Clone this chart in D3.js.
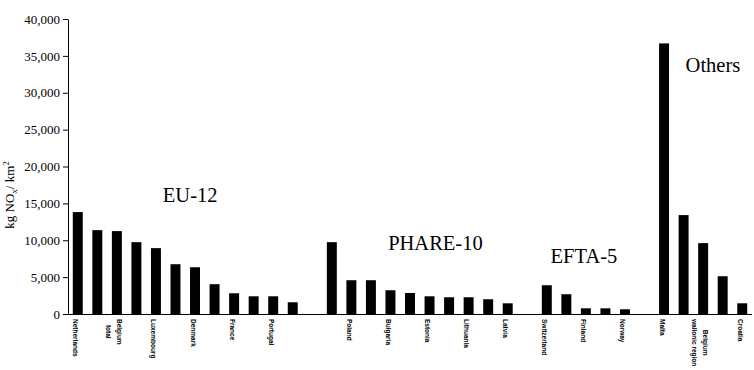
<!DOCTYPE html>
<html>
<head>
<meta charset="utf-8">
<script src="https://cdn.jsdelivr.net/npm/d3@7"></script>
<style>
  body { margin: 0; background: #fff; }
  svg { display: block; }
</style>
</head>
<body>
<div id="wrapper"></div>
<script>
// values (kg NOx / km2), labels only where the picture shows one
const groupNames = ['EU-12', 'PHARE-10', 'EFTA-5', 'Others']

const euValues = [13820, 11370, 11240, 9740, 8930, 6750, 6340, 4040, 2810, 2400, 2400, 1590]
const euLabels = ['Netherlands', '', 'Belgium\ntotal', '', 'Luxembourg', '', 'Denmark', '', 'France', '', 'Portugal', '']

const phareValues = [9740, 4580, 4580, 3220, 2850, 2400, 2270, 2270, 2000, 1450]
const phareLabels = ['', 'Poland', '', 'Bulgaria', '', 'Estonia', '', 'Lithuania', '', 'Latvia']

const eftaValues = [3900, 2680, 770, 770, 640]
const eftaLabels = ['Switzerland', '', 'Finland', '', 'Norway']

const otherValues = [36690, 13410, 9610, 5120, 1450]
const otherLabels = ['Malta', '', 'Belgium\nwallonic region', '', 'Croatia']

const yTicks = [0, 5000, 10000, 15000, 20000, 25000, 30000, 35000, 40000]

// group caption anchors: [slot position, value]
const captionSlots = [6.25, 18.8, 26.4, 33.0]
const captionValues = [15180, 8650, 6890, 32840]

function renderChart() {
    const dimensions = {
        width: 754,
        height: 370,
        margins: { top: 19, right: 2, bottom: 56, left: 68 }
    }
    dimensions.boundedWidth = dimensions.width - dimensions.margins.left - dimensions.margins.right
    dimensions.boundedHeight = dimensions.height - dimensions.margins.top - dimensions.margins.bottom

    const groups = [
        { values: euValues, labels: euLabels },
        { values: phareValues, labels: phareLabels },
        { values: eftaValues, labels: eftaLabels },
        { values: otherValues, labels: otherLabels }
    ]

    // one slot per bar, plus an empty slot between groups
    const slots = []
    groups.forEach((g, gi) => {
        g.values.forEach((v, i) => slots.push({ key: `${gi}-${i}`, value: v, label: g.labels[i] }))
        if (gi < groups.length - 1) slots.push({ key: `gap-${gi}`, value: null, label: '' })
    })

    const wrapper = d3.select('#wrapper')
        .append('svg')
        .attr('width', dimensions.width)
        .attr('height', dimensions.height)

    const bounds = wrapper.append('g')
        .attr('transform', `translate(${dimensions.margins.left}, ${dimensions.margins.top})`)

    const xScale = d3.scaleBand()
        .domain(slots.map(d => d.key))
        .range([0, dimensions.boundedWidth])
        .paddingInner(0.49)
        .paddingOuter(0.245)

    const slotScale = d3.scaleLinear()
        .domain([0, slots.length])
        .range([0, dimensions.boundedWidth])

    const yScale = d3.scaleLinear()
        .domain([0, 40000])
        .range([dimensions.boundedHeight, 0])

    const bars = slots.filter(d => d.value !== null)

    bounds.append('g')
        .selectAll('rect')
        .data(bars)
        .join('rect')
        .attr('x', d => xScale(d.key))
        .attr('y', d => yScale(d.value))
        .attr('width', xScale.bandwidth())
        .attr('height', d => dimensions.boundedHeight - yScale(d.value))
        .attr('fill', '#000')

    // y axis
    const yAxisGenerator = d3.axisLeft(yScale)
        .tickValues(yTicks)
        .tickFormat(d3.format(','))
        .tickSize(5)
        .tickSizeOuter(0)
        .tickPadding(3)

    const yAxis = bounds.append('g').call(yAxisGenerator)
    yAxis.selectAll('text')
        .style('font-family', '"Liberation Serif", "Times New Roman", serif')
        .style('font-size', '13px')
        .attr('fill', '#000')
    yAxis.selectAll('line, path').attr('stroke', '#000')

    // x axis line
    bounds.append('line')
        .attr('x1', 0)
        .attr('x2', dimensions.boundedWidth)
        .attr('y1', dimensions.boundedHeight + 0.5)
        .attr('y2', dimensions.boundedHeight + 0.5)
        .attr('stroke', '#000')

    // category labels, rotated, every other one
    const labelled = slots.filter(d => d.label)
    labelled.forEach(d => {
        const lines = d.label.split('\n')
        const cx = xScale(d.key) + xScale.bandwidth() / 2
        const blockCenter = lines.length > 1 ? cx - 3 : cx - 2
        const g = bounds.append('g')
            .attr('transform', `translate(${blockCenter}, ${dimensions.boundedHeight + 5}) rotate(90)`)
        const texts = lines.map((line, i) => g.append('text')
            .attr('y', -((lines.length - 1) * 10.5) / 2 + i * 10.5)
            .attr('dominant-baseline', 'central')
            .style('font-family', '"Liberation Sans", Arial, sans-serif')
            .style('font-size', '6.5px')
            .style('font-weight', 'bold')
            .attr('fill', '#000')
            .text(line))
        const lengths = texts.map(t => t.node().getComputedTextLength())
        const maxLen = d3.max(lengths)
        texts.forEach((t, i) => t.attr('x', (maxLen - lengths[i]) / 2))
    })

    // group captions
    bounds.append('g')
        .selectAll('text')
        .data(groupNames)
        .join('text')
        .attr('x', (d, i) => slotScale(captionSlots[i]))
        .attr('y', (d, i) => yScale(captionValues[i]))
        .attr('text-anchor', 'middle')
        .style('font-family', '"Liberation Serif", "Times New Roman", serif')
        .style('font-size', '20.5px')
        .attr('fill', '#000')
        .text(d => d)

    // y axis title
    const title = wrapper.append('text')
        .attr('transform', `translate(14, 195) rotate(-90)`)
        .attr('text-anchor', 'middle')
        .style('font-family', '"Liberation Serif", "Times New Roman", serif')
        .style('font-size', '13px')
        .attr('fill', '#000')
    title.append('tspan').text('kg NO')
    title.append('tspan').attr('dy', 3).style('font-size', '9px').text('x')
    title.append('tspan').attr('dy', -3).text('/ km')
    title.append('tspan').attr('dy', -5).style('font-size', '9px').text('2')
}

renderChart()
</script>
</body>
</html>
